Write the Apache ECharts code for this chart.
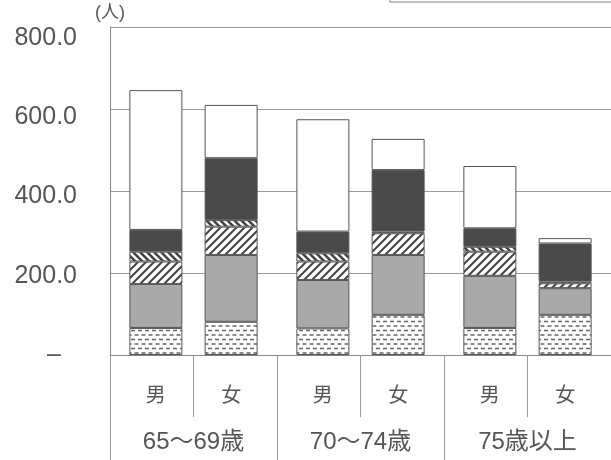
<!DOCTYPE html>
<html>
<head>
<meta charset="utf-8">
<script src="https://cdn.jsdelivr.net/npm/echarts@6/dist/echarts.min.js"></script>
<style>
  html, body { margin: 0; padding: 0; background: #fff; }
  #chart { width: 611px; height: 460px; }
</style>
</head>
<body>
<div id="chart"></div>
<script>
// Age groups on the x axis, two stacked bars (男 / 女) in each
const ageGroups = ['65～69歳', '70～74歳', '75歳以上'];
const sexes = ['男', '女'];

// Stack bands from bottom to top, values in 人
const maleDots   = [66, 65, 66];
const maleGray   = [107, 118, 127];
const maleHatchA = [55, 45, 59];
const maleHatchB = [24, 20, 12];
const maleDark   = [53, 53, 45];
const maleWhite  = [341, 274, 152];

const femaleDots   = [81, 98, 98];
const femaleGray   = [163, 146, 65];
const femaleHatchA = [69, 53, 12];
const femaleHatchB = [16, 4, 4];
const femaleDark   = [151, 150, 93];
const femaleWhite  = [130, 76, 13];

const yTicks = [0, 200, 400, 600, 800];

// ---- fill patterns ----
function makeTile(w, h, draw) {
  const c = document.createElement('canvas');
  c.width = w; c.height = h;
  const g = c.getContext('2d');
  g.fillStyle = '#fff';
  g.fillRect(0, 0, w, h);
  draw(g);
  return { image: c, repeat: 'repeat' };
}
const dotsFill = makeTile(14, 9, g => {
  g.strokeStyle = '#666';
  g.lineWidth = 1.6;
  g.beginPath();
  g.moveTo(1.5, 2); g.lineTo(5.5, 2);
  g.moveTo(8.5, 2); g.lineTo(12.5, 2);
  g.moveTo(5, 6.5); g.lineTo(9, 6.5);
  g.moveTo(12, 6.5); g.lineTo(14, 6.5);
  g.moveTo(0, 6.5); g.lineTo(2, 6.5);
  g.stroke();
});
const hatchAFill = makeTile(8, 8, g => {
  g.strokeStyle = '#444';
  g.lineWidth = 2;
  g.beginPath();
  g.moveTo(-1, 9); g.lineTo(9, -1);
  g.moveTo(-1, 1); g.lineTo(1, -1);
  g.moveTo(7, 9); g.lineTo(9, 7);
  g.stroke();
});
const hatchBFill = makeTile(7, 7, g => {
  g.strokeStyle = '#444';
  g.lineWidth = 2.6;
  g.beginPath();
  g.moveTo(-1, -1); g.lineTo(8, 8);
  g.moveTo(6, -1); g.lineTo(8, 1);
  g.moveTo(-1, 6); g.lineTo(1, 8);
  g.stroke();
});

const bandFills = [dotsFill, '#a9a9a9', hatchAFill, hatchBFill, '#4a4a4a', '#ffffff'];
const bandData = [
  [maleDots, maleGray, maleHatchA, maleHatchB, maleDark, maleWhite],
  [femaleDots, femaleGray, femaleHatchA, femaleHatchB, femaleDark, femaleWhite]
];

const font = '"Liberation Sans", "Noto Sans CJK JP", sans-serif';
const textColor = '#555';

const series = [];
sexes.forEach((sex, s) => {
  bandData[s].forEach((values, k) => {
    series.push({
      type: 'bar',
      name: sex + '-' + k,
      stack: sex,
      data: values,
      barWidth: 53,
      barGap: '42%',
      xAxisIndex: 0,
      yAxisIndex: 0,
      silent: true,
      itemStyle: { color: bandFills[k], borderColor: '#555', borderWidth: 1 },
      label: k === 0 ? {
        show: true,
        position: 'bottom',
        distance: 31,
        formatter: sex,
        fontSize: 20,
        fontFamily: font,
        color: textColor
      } : { show: false }
    });
  });
});

const chart = echarts.init(document.getElementById('chart'), null, { renderer: 'canvas' });
chart.setOption({
  animation: false,
  backgroundColor: '#fff',
  grid: [
    // plot area with bars, gridlines and the bottom category rows
    { left: 110, right: 0, top: 27, bottom: 105, containLabel: false },
    // tick-label column, set slightly lower than the gridlines
    { left: 110, right: 0, top: 38, bottom: 105, containLabel: false }
  ],
  xAxis: [
    {
      type: 'category',
      gridIndex: 0,
      data: ageGroups,
      position: 'bottom',
      axisLine: { show: true, lineStyle: { color: '#888', width: 1 } },
      axisTick: { show: true, length: 105, lineStyle: { color: '#999', width: 1 } },
      axisLabel: { margin: 75, fontSize: 24, fontFamily: font, color: textColor }
    },
    {
      type: 'category',
      gridIndex: 0,
      data: [0, 1, 2, 3, 4, 5].map(i => sexes[i % 2]),
      position: 'bottom',
      axisLine: { show: false },
      axisTick: { show: true, length: 62, lineStyle: { color: '#999', width: 1 } },
      axisLabel: { show: false }
    },
    {
      type: 'category',
      gridIndex: 1,
      data: ageGroups,
      show: false
    }
  ],
  yAxis: [
    {
      type: 'value',
      gridIndex: 0,
      min: yTicks[0],
      max: yTicks[yTicks.length - 1],
      interval: 200,
      name: '(人)',
      nameLocation: 'end',
      nameGap: 5,
      nameTextStyle: { fontSize: 18, fontFamily: font, color: textColor, align: 'center' },
      axisLine: { show: true, lineStyle: { color: '#888', width: 1 } },
      axisTick: { show: false },
      splitLine: { show: true, lineStyle: { color: '#9a9a9a', width: 1 } },
      axisLabel: { show: false }
    },
    {
      type: 'value',
      gridIndex: 1,
      min: yTicks[0],
      max: yTicks[yTicks.length - 1],
      interval: 200,
      axisLine: { show: false },
      axisTick: { show: false },
      splitLine: { show: false },
      axisLabel: {
        margin: 33,
        fontSize: 25,
        fontFamily: font,
        color: textColor,
        formatter: v => v === 0 ? '{d|–}' : v.toFixed(1),
        rich: { d: { fontSize: 25, fontFamily: font, color: textColor, padding: [0, 16, 0, 0] } }
      }
    }
  ],
  graphic: [{
    type: 'rect',
    silent: true,
    shape: { x: 390, y: -40, width: 240, height: 42 },
    style: { fill: 'none', stroke: '#aaa', lineWidth: 1.5 }
  }],
  series: series
});
</script>
</body>
</html>
